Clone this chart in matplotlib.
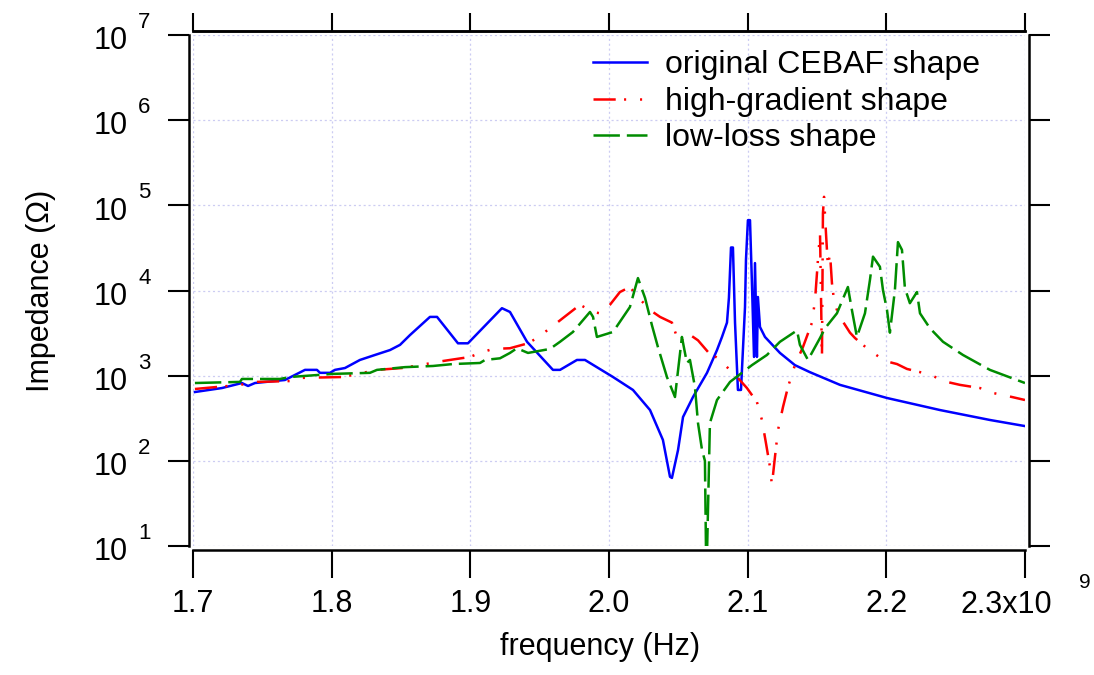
import matplotlib
matplotlib.use('Agg')
import matplotlib.pyplot as plt
from matplotlib.ticker import FixedLocator, FixedFormatter, NullLocator

plt.rcParams['font.family'] = ['Liberation Sans', 'DejaVu Sans']
plt.rcParams['lines.scale_dashes'] = False

# frequency in GHz, impedance in ohm
# original CEBAF shape
cebaf_f = [1.7014, 1.7209, 1.7353, 1.7397, 1.7447, 1.7663, 1.7808, 1.7894, 1.7916, 1.7988,
           1.8024, 1.8096, 1.8204, 1.8312, 1.8421, 1.8493, 1.8565, 1.8709, 1.8760, 1.8911,
           1.8983, 1.9228, 1.9286, 1.9409, 1.9596, 1.9647, 1.9769, 1.9827, 2.0029, 2.0173,
           2.0296, 2.0389, 2.0440, 2.0454, 2.0498, 2.0534, 2.0606, 2.0707, 2.0779, 2.0815,
           2.0851, 2.0865, 2.0880, 2.0894, 2.0909, 2.0930, 2.0952, 2.0981, 2.0988, 2.1002,
           2.1017, 2.1031, 2.1046, 2.1053, 2.1067, 2.1074, 2.1089, 2.1125, 2.1233, 2.1341,
           2.1449, 2.1666, 2.2005, 2.2387, 2.2747, 2.3000]
cebaf_z = [643, 716, 820, 757, 820, 890, 1170, 1170, 1080, 1080,
           1170, 1230, 1530, 1750, 2000, 2300, 3000, 4900, 4900, 2400,
           2400, 6200, 5600, 2500, 1170, 1170, 1530, 1530, 965, 680,
           395, 176, 65, 63, 134, 327, 562, 1080, 2000, 2850,
           4200, 8200, 32000, 32000, 4200, 680, 680, 6400, 23000, 67000,
           67000, 12200, 1660, 21000, 1660, 8400, 3730, 2850, 1850, 1330,
           1100, 780, 547, 395, 302, 256]

# high-gradient shape
hg_f = [1.7014, 1.7339, 1.7462, 1.7700, 1.7750, 1.8082, 1.8327, 1.8507, 1.8637, 1.8760,
        1.8853, 1.8998, 1.9070, 1.9163, 1.9286, 1.9416, 1.9481, 1.9574, 1.9668, 1.9791,
        1.9885, 1.9935, 2.0007, 2.0079, 2.0151, 2.0209, 2.0296, 2.0368, 2.0454, 2.0490,
        2.0512, 2.0562, 2.0642, 2.0714, 2.0786, 2.0858, 2.0930, 2.0995, 2.1067, 2.1103,
        2.1132, 2.1161, 2.1175, 2.1197, 2.1219, 2.1255, 2.1291, 2.1341, 2.1399, 2.1464,
        2.1486, 2.1507, 2.1522, 2.1536, 2.1543, 2.1551, 2.1565, 2.1579, 2.1594, 2.1608,
        2.1623, 2.1644, 2.1680, 2.1738, 2.1774, 2.1860, 2.1896, 2.1990, 2.2077, 2.2149,
        2.2264, 2.2336, 2.2437, 2.2531, 2.2675, 2.2769, 2.2906, 2.3000]
hg_z = [698, 780, 845, 865, 940, 965, 1170, 1230, 1330, 1450,
        1530, 1660, 1850, 2060, 2100, 2400, 2770, 3600, 4750, 6800,
        5600, 5400, 6800, 9600, 11000, 8400, 5900, 4900, 4200, 2850,
        2400, 3200, 2600, 1900, 1600, 1230, 940, 716, 491, 302,
        162, 85, 52, 111, 230, 429, 737, 1330, 2170, 4200,
        7700, 23000, 47000, 1660, 81000, 126000, 47000, 19000, 27500, 12200,
        7700, 5900, 4500, 3200, 2770, 2100, 1900, 1490, 1370, 1200,
        1080, 990, 845, 780, 716, 627, 562, 518]

# low-loss shape
ll_f = [1.7014, 1.7339, 1.7353, 1.7627, 1.7700, 1.8010, 1.8276, 1.8327, 1.8529, 1.8731,
        1.8875, 1.9070, 1.9106, 1.9214, 1.9286, 1.9336, 1.9416, 1.9574, 1.9647, 1.9740,
        1.9863, 1.9885, 1.9913, 2.0029, 2.0151, 2.0209, 2.0260, 2.0310, 2.0353, 2.0418,
        2.0476, 2.0526, 2.0562, 2.0584, 2.0620, 2.0642, 2.0671, 2.0692, 2.0700, 2.0707,
        2.0728, 2.0779, 2.0873, 2.1031, 2.1139, 2.1233, 2.1356, 2.1377, 2.1435, 2.1522,
        2.1558, 2.1644, 2.1723, 2.1752, 2.1788, 2.1846, 2.1882, 2.1904, 2.1954, 2.1976,
        2.2005, 2.2026, 2.2062, 2.2084, 2.2113, 2.2134, 2.2170, 2.2221, 2.2243, 2.2315,
        2.2409, 2.2553, 2.2747, 2.3000]
ll_z = [820, 845, 915, 915, 965, 1050, 1080, 1170, 1260, 1300,
        1370, 1410, 1530, 1600, 1850, 2100, 1850, 2060, 2500, 3260,
        5600, 4900, 2850, 3260, 6400, 14000, 8200, 3900, 2170, 965,
        562, 2850, 1410, 1530, 737, 278, 134, 100, 8, 8,
        278, 518, 845, 1330, 1750, 2500, 3400, 2300, 1530, 2770,
        3600, 5400, 11000, 5900, 2850, 5400, 13300, 25000, 19000, 10100,
        5900, 3200, 10100, 37000, 30000, 10700, 7100, 9600, 5400, 3600,
        2500, 1750, 1170, 820]

xticks = [1.7, 1.8, 1.9, 2.0, 2.1, 2.2, 2.3]
xlabels = ['1.7', '1.8', '1.9', '2.0', '2.1', '2.2', '']
yexp = [1, 2, 3, 4, 5, 6, 7]

fig = plt.figure(figsize=(10.94, 6.75), dpi=100)
ax = fig.add_axes([0.1764, 0.1911, 0.7605, 0.757])

ax.plot([f * 1e9 for f in cebaf_f], cebaf_z, color='#0000ff', lw=1.8, label='original CEBAF shape')
ax.plot([f * 1e9 for f in hg_f], hg_z, color='#ff0000', lw=1.8,
        linestyle=(0, (16, 6, 1.5, 10, 1.5, 10)), label='high-gradient shape')
ax.plot([f * 1e9 for f in ll_f], ll_z, color='#008c00', lw=1.8,
        linestyle=(0, (19, 5)), label='low-loss shape')

ax.set_yscale('log')
ax.set_ylim(10, 1e7)
ax.set_xlim(1.7e9, 2.3e9)

ax.yaxis.set_major_locator(FixedLocator([10.0 ** k for k in yexp]))
ax.yaxis.set_minor_locator(NullLocator())
ax.xaxis.set_major_locator(FixedLocator([t * 1e9 for t in xticks]))
ax.xaxis.set_major_formatter(FixedFormatter(xlabels))

ax.grid(True, color='#ccccf2', linestyle=(0, (1.5, 2)), lw=0.9)

for s in ['left', 'right', 'top', 'bottom']:
    ax.spines[s].set_position(('outward', 3))
    ax.spines[s].set_linewidth(1.8)

ax.tick_params(axis='y', direction='out', length=15, width=1.5, left=True, right=True,
               labelleft=False)
ax.tick_params(axis='x', direction='out', length=20, width=1.5, bottom=True, top=False,
               labelsize=22, pad=8)

# y tick labels in the "10  n" style, exponent set apart
for k in yexp:
    ax.annotate('10', xy=(-0.078, 10.0 ** k), xycoords=('axes fraction', 'data'),
                xytext=(0, -4.5), textcoords='offset points', ha='right', va='center',
                fontsize=22, annotation_clip=False)
    ax.annotate(str(k), xy=(-0.051, 10.0 ** k), xycoords=('axes fraction', 'data'),
                xytext=(0, 9), textcoords='offset points', ha='right', va='center',
                fontsize=16, annotation_clip=False)

# short ticks on the top axis
top = ax.secondary_xaxis('top')
top.set_xticks([t * 1e9 for t in xticks])
top.tick_params(direction='out', length=13, width=1.5, labeltop=False)
top.spines['top'].set_position(('outward', 3))
top.spines['top'].set_linewidth(1.8)

fig.text(1006 / 1094, 1 - 590 / 675, '2.3x10', ha='center', va='top', fontsize=22)
fig.text(1085 / 1094, 1 - 582 / 675, '9', ha='center', va='center', fontsize=15)

ax.set_xlabel('frequency (Hz)', fontsize=22)
ax.xaxis.set_label_coords(0.489, -0.168)
ax.set_ylabel('Impedance (Ω)', fontsize=22)
ax.yaxis.set_label_coords(-0.165, 0.5)

ax.legend(loc='upper left', bbox_to_anchor=(0.481, 0.970), frameon=False, fontsize=23,
          handlelength=1.7, handletextpad=0.55, labelspacing=0.2, borderpad=0, borderaxespad=0)

fig.savefig('out.png', dpi=100)
